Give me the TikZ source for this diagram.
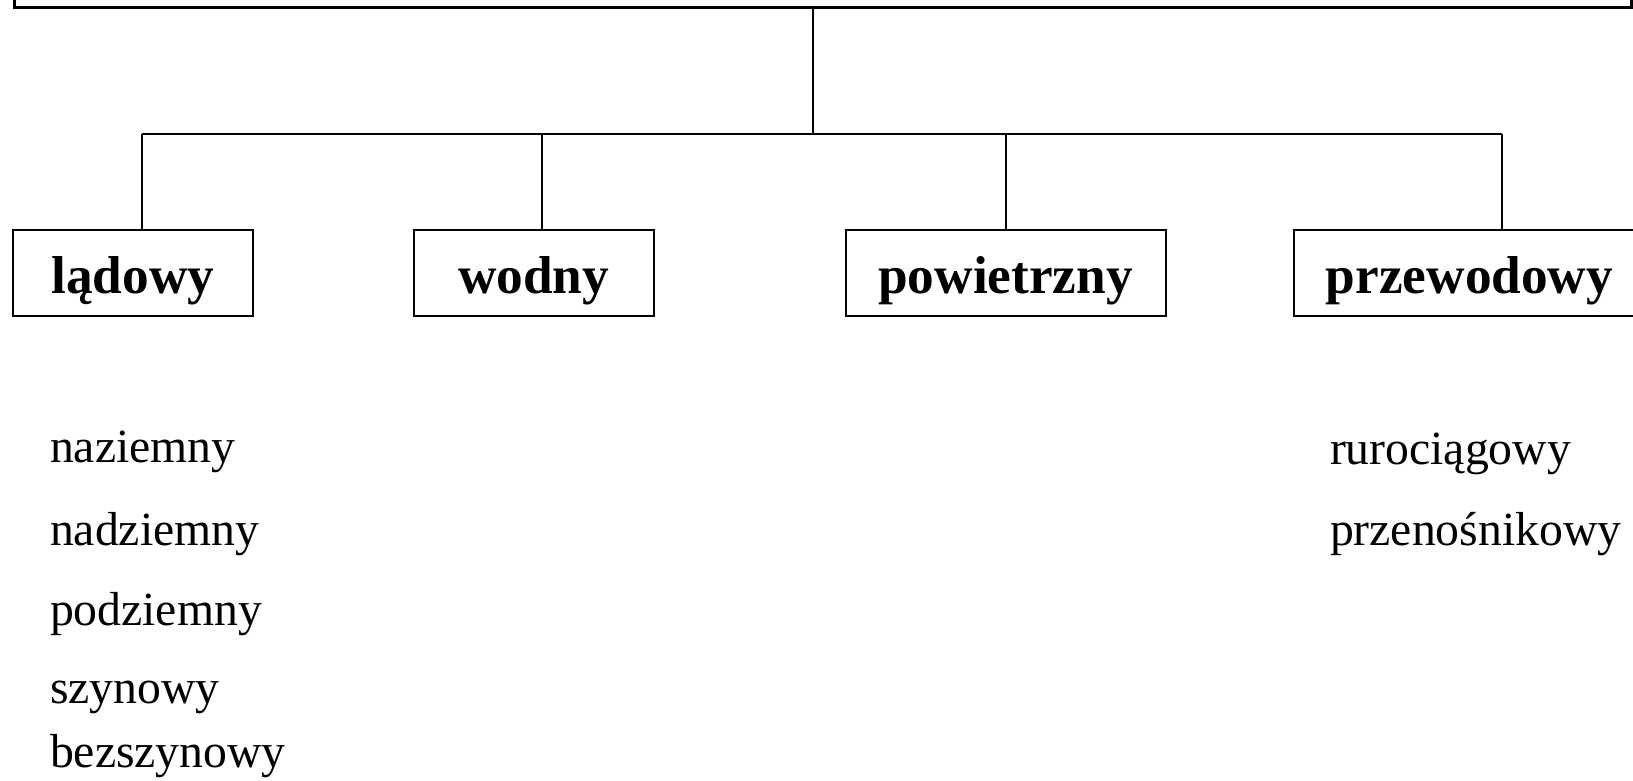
\documentclass[tikz,border=0pt]{standalone}
\usepackage{fontspec}
\setmainfont{Liberation Serif}
\usepackage{tikz}
\usetikzlibrary{positioning}

\begin{document}
\begin{tikzpicture}[
  x=0.5pt, y=-0.5pt,
  line width=1pt,
  kind/.style={draw, inner sep=0pt, minimum height=43pt, text height=20pt, text depth=0pt,
    font=\fontsize{26.65pt}{32pt}\selectfont\bfseries},
  item/.style={anchor=base west, inner sep=0pt, font=\fontsize{23.85pt}{28pt}\selectfont}
]
\useasboundingbox (0,0) rectangle (1633,781);

% Top box (cut off by the page edge)
\node[draw, line width=1.4pt, anchor=south west, minimum width=808.5pt, minimum height=60pt] (root) at (13,9) {};

% Second level
\node[kind, minimum width=120.25pt] (lad) at (132.75,273) {lądowy};
\node[kind, minimum width=120.25pt] (wod) at (533.75,273) {wodny};
\node[kind, minimum width=160pt] (pow) at (1005.6,273) {powietrzny};
\node[kind, minimum width=176pt] (prz) at (1469.5,273) {przewodowy};

% Bus
\coordinate (hub) at (813.4,134.4);
\coordinate (b1) at (141.6,134.4);
\coordinate (b2) at (541.6,134.4);
\coordinate (b3) at (1006,134.4);
\coordinate (b4) at (1501.8,134.4);
\draw (root.south -| hub) -- (hub);
\draw (b1) -- (b4);
\foreach \b/\n in {b1/lad, b2/wod, b3/pow, b4/prz}
  \draw (\b) -- (\b |- \n.north);

% Lists
\node[item] (naz) at (49,462) {naziemny};
\node[item] (nad) at (49,545) {nadziemny};
\node[item] (pod) at (49,625) {podziemny};
\node[item] (szy) at (49,703) {szynowy};
\node[item] (bez) at (49,767) {bezszynowy};
\node[item] (rur) at (1329,464) {rurociągowy};
\node[item] (prn) at (1329,545) {przenośnikowy};

\end{tikzpicture}
\end{document}
